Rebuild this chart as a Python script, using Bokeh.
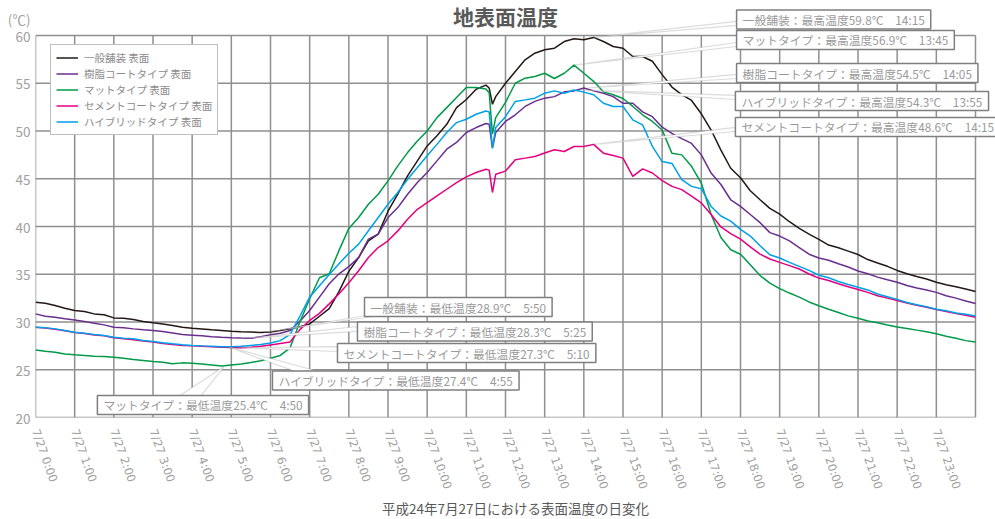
from bokeh.plotting import figure
from bokeh.models import Range1d, FixedTicker, Label, PolyAnnotation
from bokeh.embed import file_html
from bokeh.resources import INLINE

# ---------------- data ----------------
times = [
    "0:00", "0:15", "0:30", "0:45",
    "1:00", "1:15", "1:30", "1:45",
    "2:00", "2:15", "2:30", "2:45",
    "3:00", "3:15", "3:30", "3:45",
    "4:00", "4:15", "4:30", "4:45",
    "5:00", "5:15", "5:30", "5:45",
    "6:00", "6:15", "6:30", "6:45",
    "7:00", "7:15", "7:30", "7:45",
    "8:00", "8:15", "8:30", "8:45",
    "9:00", "9:15", "9:30", "9:45",
    "10:00", "10:15", "10:30", "10:45",
    "11:00", "11:15", "11:30", "11:35", "11:40", "11:45",
    "12:00", "12:15", "12:30", "12:45",
    "13:00", "13:15", "13:30", "13:45",
    "14:00", "14:15", "14:30", "14:45",
    "15:00", "15:15", "15:30", "15:45",
    "16:00", "16:15", "16:30", "16:45",
    "17:00", "17:15", "17:30", "17:45",
    "18:00", "18:15", "18:30", "18:45",
    "19:00", "19:15", "19:30", "19:45",
    "20:00", "20:15", "20:30", "20:45",
    "21:00", "21:15", "21:30", "21:45",
    "22:00", "22:15", "22:30", "22:45",
    "23:00", "23:15", "23:30", "23:45",
    "24:00",
]

ippan = [
    32.07, 31.97, 31.73, 31.45,
    31.20, 31.10, 30.85, 30.75,
    30.43, 30.40, 30.26, 30.05,
    29.91, 29.80, 29.63, 29.46,
    29.35, 29.27, 29.18, 29.10,
    29.02, 28.97, 28.94, 28.90,
    28.95, 29.10, 29.30, 29.50,
    29.80, 30.60, 31.40, 33.20,
    35.30, 36.75, 38.50, 39.20,
    41.60, 43.40, 45.30, 46.87,
    48.44, 49.50, 50.70, 52.45,
    53.30, 54.37, 54.80, 54.50, 52.80, 53.60,
    55.00, 56.23, 57.45, 58.15,
    58.50, 58.67, 59.37, 59.65,
    59.55, 59.80, 59.37, 58.85,
    58.67, 57.80, 57.80, 57.30,
    55.90, 54.60, 53.80, 53.20,
    51.80, 50.10, 48.00, 46.10,
    45.10, 43.75, 42.80, 41.90,
    41.30, 40.50, 39.80, 39.20,
    38.66, 38.06, 37.77, 37.42,
    37.07, 36.54, 36.18, 35.83,
    35.40, 35.05, 34.77, 34.50,
    34.17, 33.90, 33.70, 33.46,
    33.20,
]

jushi = [
    30.85, 30.61, 30.50, 30.33,
    30.22, 30.05, 29.88, 29.70,
    29.46, 29.39, 29.28, 29.18,
    29.10, 29.00, 28.86, 28.69,
    28.62, 28.55, 28.46, 28.40,
    28.35, 28.32, 28.30, 28.45,
    28.66, 28.83, 29.11, 30.09,
    31.21, 32.60, 34.00, 35.05,
    35.80, 36.75, 38.67, 39.20,
    40.94, 41.98, 43.38, 44.60,
    45.65, 46.87, 48.10, 48.80,
    49.84, 50.36, 50.78, 50.70, 48.20, 49.84,
    51.00, 51.70, 52.57, 53.10,
    53.44, 53.60, 54.10, 54.20,
    54.50, 54.20, 53.96, 53.60,
    52.90, 52.90, 52.00, 51.50,
    50.40, 49.74, 49.20, 48.70,
    47.50, 45.60, 44.40, 42.80,
    42.10, 41.26, 40.40, 39.36,
    39.00, 38.50, 37.80, 37.10,
    36.70, 36.47, 36.10, 35.76,
    35.34, 35.05, 34.70, 34.42,
    34.17, 33.82, 33.57, 33.36,
    33.10, 32.75, 32.50, 32.20,
    31.94,
]

matto = [
    27.08, 26.94, 26.84, 26.66,
    26.56, 26.49, 26.42, 26.39,
    26.32, 26.21, 26.07, 25.97,
    25.86, 25.79, 25.62, 25.72,
    25.69, 25.60, 25.50, 25.40,
    25.50, 25.60, 25.75, 25.95,
    26.20, 26.50, 27.30, 30.00,
    32.43, 34.63, 35.05, 37.50,
    39.80, 40.94, 42.33, 43.38,
    44.78, 46.35, 47.74, 48.96,
    50.00, 51.40, 52.45, 53.50,
    54.55, 54.55, 54.40, 54.00, 49.70, 51.40,
    53.00, 55.00, 55.53, 55.70,
    56.05, 55.50, 56.05, 56.90,
    56.05, 55.20, 54.10, 53.80,
    53.40, 52.57, 51.70, 51.00,
    50.10, 47.66, 47.50, 46.30,
    44.55, 41.26, 38.84, 37.56,
    37.10, 36.00, 34.86, 34.07,
    33.50, 33.03, 32.60, 32.10,
    31.70, 31.34, 30.99, 30.64,
    30.39, 30.10, 29.93, 29.68,
    29.47, 29.33, 29.15, 28.98,
    28.76, 28.50, 28.30, 28.05,
    27.90,
]

cement = [
    29.45, 29.36, 29.25, 29.08,
    28.90, 28.80, 28.65, 28.55,
    28.36, 28.25, 28.15, 28.00,
    27.90, 27.75, 27.65, 27.55,
    27.50, 27.45, 27.40, 27.36,
    27.33, 27.30, 27.35, 27.45,
    27.60, 27.75, 27.90, 29.20,
    30.16, 30.90, 31.90, 32.95,
    34.10, 35.36, 36.75, 37.80,
    38.50, 39.54, 40.76, 41.80,
    42.50, 43.20, 43.90, 44.60,
    45.20, 45.65, 46.00, 45.90, 43.56, 45.47,
    45.80, 46.98, 47.16, 47.33,
    47.70, 48.03, 47.85, 48.38,
    48.38, 48.60, 47.68, 47.43,
    47.16, 45.24, 46.04, 45.60,
    44.80, 44.20, 43.86, 43.17,
    42.47, 41.26, 39.95, 39.26,
    38.67, 37.87, 37.10, 36.60,
    36.24, 35.90, 35.55, 35.03,
    34.60, 34.35, 34.00, 33.70,
    33.40, 33.10, 32.75, 32.50,
    32.25, 32.00, 31.75, 31.55,
    31.30, 31.10, 30.90, 30.70,
    30.50,
]

hybrid = [
    29.46, 29.39, 29.28, 29.11,
    28.93, 28.83, 28.69, 28.58,
    28.41, 28.30, 28.24, 28.06,
    27.96, 27.82, 27.71, 27.61,
    27.55, 27.50, 27.46, 27.42,
    27.40, 27.45, 27.55, 27.65,
    27.80, 28.05, 28.70, 30.60,
    32.60, 33.80, 34.98, 36.10,
    37.20, 38.15, 39.55, 40.94,
    42.33, 43.56, 44.95, 46.17,
    47.40, 48.60, 49.84, 50.88,
    51.23, 51.75, 52.10, 52.00, 48.20, 50.36,
    51.50, 53.10, 53.26, 53.44,
    53.96, 54.20, 53.96, 54.30,
    54.07, 53.80, 52.90, 52.57,
    52.57, 51.17, 50.64, 48.40,
    46.80, 46.60, 44.90, 44.20,
    43.96, 42.10, 41.10, 40.57,
    39.70, 39.00, 37.98, 37.04,
    36.70, 36.24, 35.83, 35.40,
    34.90, 34.63, 34.24, 33.92,
    33.64, 33.36, 32.93, 32.65,
    32.37, 32.05, 31.80, 31.59,
    31.34, 31.17, 30.95, 30.80,
    30.64,
]

series_names = ["一般舗装 表面", "樹脂コートタイプ 表面", "マットタイプ 表面",
                "セメントコートタイプ 表面", "ハイブリッドタイプ 表面"]
series_values = [ippan, jushi, matto, cement, hybrid]
series_colors = ["#231815", "#6a2f8e", "#009a48", "#e4007f", "#00a0e9"]

hour_ticks = list(range(0, 25))
tick_labels = ["7/27 0:00", "7/27 1:00", "7/27 2:00", "7/27 3:00", "7/27 4:00",
               "7/27 5:00", "7/27 6:00", "7/27 7:00", "7/27 8:00", "7/27 9:00",
               "7/27 10:00", "7/27 11:00", "7/27 12:00", "7/27 13:00", "7/27 14:00",
               "7/27 15:00", "7/27 16:00", "7/27 17:00", "7/27 18:00", "7/27 19:00",
               "7/27 20:00", "7/27 21:00", "7/27 22:00", "7/27 23:00", ""]
y_ticks = [20, 25, 30, 35, 40, 45, 50, 55, 60]
unit_label = "(℃)"

max_names = ["一般舗装", "マットタイプ", "樹脂コートタイプ", "ハイブリッドタイプ", "セメントコートタイプ"]
max_vals = [59.8, 56.9, 54.5, 54.3, 48.6]
max_times = ["14:15", "13:45", "14:05", "13:55", "14:15"]

min_names = ["一般舗装", "樹脂コートタイプ", "セメントコートタイプ", "ハイブリッドタイプ", "マットタイプ"]
min_vals = [28.9, 28.3, 27.3, 27.4, 25.4]
min_times = ["5:50", "5:25", "5:10", "4:55", "4:50"]

# --------------- layout / style (annotation positions in data units) ---------------
unit_pos = 61.68
title_pos = (12, 62.0)
max_box_pos = [(17.90, 61.68), (17.90, 59.53), (17.90, 56.07), (17.87, 53.14), (17.87, 50.42)]
max_wedge_base = [((17.90, 61.47), (17.90, 61.05)),
                  ((17.90, 59.27), (17.90, 58.85)),
                  ((17.90, 55.92), (17.90, 55.50)),
                  ((17.87, 53.72), (17.87, 53.30)),
                  ((17.87, 50.37), (17.87, 49.95))]
min_box_pos = [(8.40, 31.57), (8.22, 29.00), (7.71, 26.75), (6.05, 23.87), (1.58, 21.31)]
min_wedge_base = [((9.14, 31.15), (9.57, 31.15)),
                  ((8.22, 29.53), (8.22, 29.01)),
                  ((7.71, 27.43), (7.71, 26.91)),
                  ((6.71, 24.71), (7.33, 24.71)),
                  ((3.65, 22.20), (4.21, 22.20))]

FONT = "Noto Sans CJK JP"
GRID = "#8f8f8f"
FRAME = "#7f7f7f"
TXT_GRAY = "#9a9a9a"

PX_PER_HOUR = 940 / 24.0
PX_PER_DEG = 382 / 40.0
FRAME_W = 960
FRAME_H = 417


def to_hours(s):
    h, m = s.split(":")
    return int(h) + int(m) / 60.0


hours = [to_hours(t) for t in times]

x_end = FRAME_W / PX_PER_HOUR
y_end = 20 + FRAME_H / PX_PER_DEG

p = figure(frame_width=FRAME_W, frame_height=FRAME_H,
           x_range=Range1d(0, x_end), y_range=Range1d(20, y_end),
           output_backend="svg", toolbar_location=None,
           min_border_left=35, min_border_right=0,
           min_border_top=0, min_border_bottom=100)

p.background_fill_color = "white"
p.border_fill_color = "white"
p.outline_line_color = None
p.grid.visible = False

# grid drawn from the tick lists (bounded to the chart area)
p.segment(x0=hour_ticks, y0=[y_ticks[0]] * len(hour_ticks),
          x1=hour_ticks, y1=[y_ticks[-1]] * len(hour_ticks),
          line_color=GRID, line_width=1.5)
p.segment(x0=[hour_ticks[0]] * len(y_ticks), y0=y_ticks,
          x1=[hour_ticks[-1]] * len(y_ticks), y1=y_ticks,
          line_color=GRID, line_width=1.5)

# axes
p.xaxis.ticker = FixedTicker(ticks=hour_ticks)
p.xaxis.major_label_overrides = {h: lab for h, lab in zip(hour_ticks, tick_labels)}
p.xaxis.major_label_orientation = -1.23
p.xaxis.major_label_text_font = "DejaVu Sans"
p.xaxis.major_label_text_font_size = "11.5px"
p.xaxis.major_label_text_color = "#a0a0a0"
p.xaxis.major_label_standoff = 12
p.xaxis.major_tick_out = 0
p.xaxis.major_tick_in = 0
p.xaxis.minor_tick_out = 0
p.xaxis.minor_tick_in = 0
p.xaxis.axis_line_color = None
p.xaxis.axis_label = "平成24年7月27日における表面温度の日変化"
p.xaxis.axis_label_text_font = FONT
p.xaxis.axis_label_text_font_size = "13.5px"
p.xaxis.axis_label_text_font_style = "normal"
p.xaxis.axis_label_text_color = "#595959"
p.xaxis.axis_label_standoff = 2

p.yaxis.ticker = FixedTicker(ticks=y_ticks + [unit_pos])
p.yaxis.major_label_overrides = {unit_pos: unit_label}
p.yaxis.major_label_text_font = FONT
p.yaxis.major_label_text_font_size = "13.5px"
p.yaxis.major_label_text_color = "#a0a0a0"
p.yaxis.major_label_standoff = 5
p.yaxis.major_tick_out = 0
p.yaxis.major_tick_in = 0
p.yaxis.minor_tick_out = 0
p.yaxis.minor_tick_in = 0
p.yaxis.axis_line_color = None

# lines
for name, vals, col in zip(series_names, series_values, series_colors):
    p.line(hours, vals, line_color=col, line_width=1.5, legend_label=name)

leg = p.legend[0]
leg.location = (15, 282)
leg.label_text_font = FONT
leg.label_text_font_size = "10.5px"
leg.label_text_color = "#8c8c8c"
leg.border_line_color = FRAME
leg.border_line_width = 1.5
leg.background_fill_color = "white"
leg.background_fill_alpha = 1.0
leg.glyph_width = 22
leg.glyph_height = 13
leg.label_height = 13
leg.label_standoff = 6
leg.spacing = 1
leg.padding = 5
leg.margin = 0


# annotations (wedge callouts + boxed labels)
def add_callout(apex, base, pos, text):
    (bx1, by1), (bx2, by2) = base
    p.add_layout(PolyAnnotation(xs=[apex[0], bx1, bx2], ys=[apex[1], by1, by2],
                                fill_color="white", fill_alpha=1.0,
                                line_color="#8a8a8a", line_width=1.2))
    p.add_layout(Label(x=pos[0], y=pos[1], text=text,
                       text_font=FONT, text_font_size="11.8px", text_color=TXT_GRAY,
                       text_align="left", text_baseline="middle",
                       background_fill_color="white", background_fill_alpha=1.0,
                       border_line_color=FRAME, border_line_width=1.5,
                       padding=(6, 1)))


for n, v, t, pos, base in zip(max_names, max_vals, max_times, max_box_pos, max_wedge_base):
    add_callout((to_hours(t), v), base, pos, f"{n}：最高温度{v}℃　{t}")

for n, v, t, pos, base in zip(min_names, min_vals, min_times, min_box_pos, min_wedge_base):
    add_callout((to_hours(t), v), base, pos, f"{n}：最低温度{v}℃　{t}")

# title
p.add_layout(Label(x=title_pos[0], y=title_pos[1], text="地表面温度", text_font=FONT,
                   text_font_size="21px", text_font_style="bold", text_color="#595959",
                   text_align="center", text_baseline="middle"))

open("out.html", "w").write(file_html(p, INLINE))
